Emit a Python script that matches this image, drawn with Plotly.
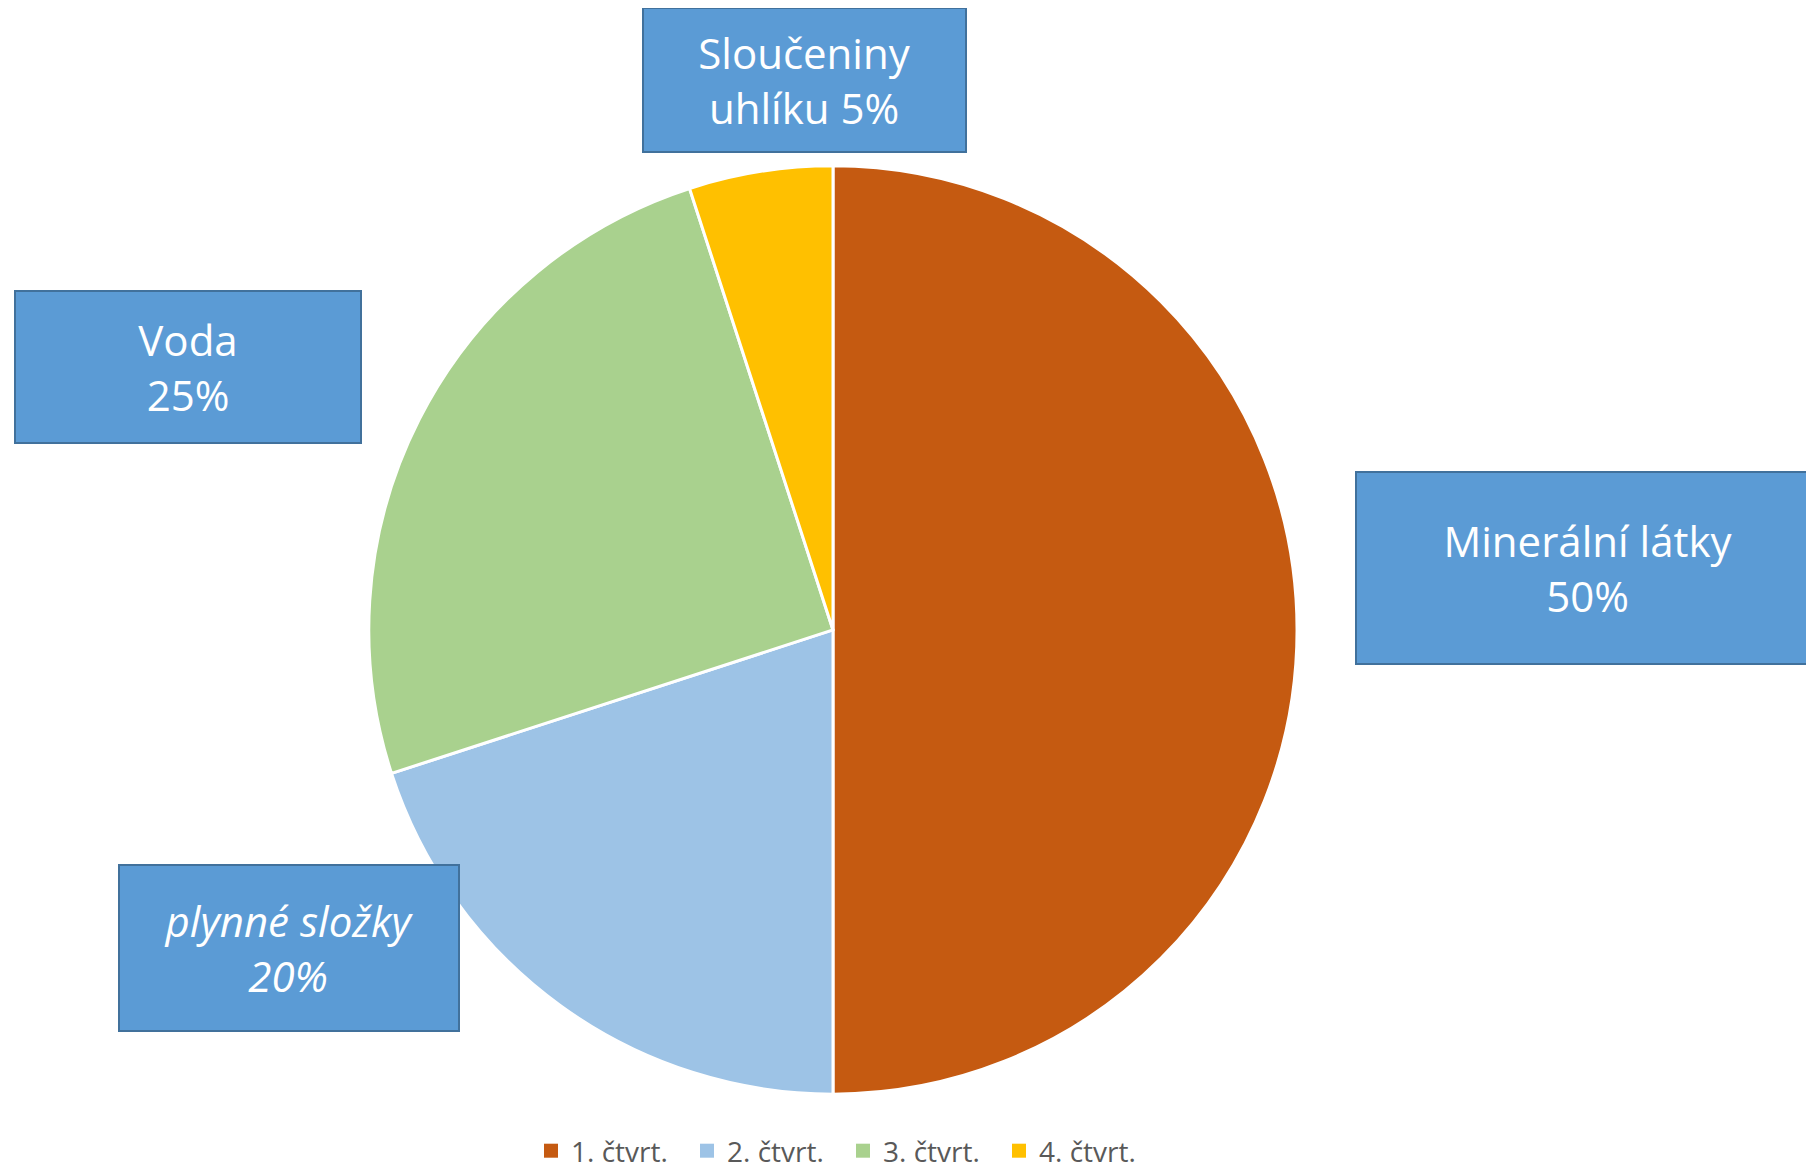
import plotly.graph_objects as go

# ---- data ----
legend_names = ["1. čtvrt.", "2. čtvrt.", "3. čtvrt.", "4. čtvrt."]
values = [50, 20, 25, 5]
label_names = ["Minerální látky", "plynné složky", "Voda", "Sloučeniny uhlíku"]
colors = ["#C55A11", "#9DC3E6", "#A9D18E", "#FFC000"]

W, H = 1814, 1168
OFF = 8  # page body margin offset


def px_x(px):
    return (px - OFF) / W


def px_y(py):
    return 1 - (py - OFF) / H


fig = go.Figure()
fig.add_trace(go.Pie(
    labels=legend_names,
    values=values,
    sort=False,
    direction="clockwise",
    rotation=0,
    textinfo="none",
    hoverinfo="skip",
    showlegend=False,
    marker=dict(colors=colors, line=dict(color="white", width=3)),
    domain=dict(x=[px_x(833 - 465), px_x(833 + 465)],
                y=[px_y(631 + 465), px_y(631 - 465)]),
))

# legend entries (square swatches)
for name, col in zip(legend_names, colors):
    fig.add_trace(go.Scatter(
        x=[None], y=[None], mode="markers", name=name,
        marker=dict(symbol="square", size=14, color=col),
        hoverinfo="skip",
    ))

# label boxes: (center x px, center y px, width px, height px, italic, break style)
boxes = [
    (1588, 569, 464, 192, False, "name_br_pct"),
    (289, 950, 340, 166, True, "name_br_pct"),
    (188, 368, 346, 152, False, "name_br_pct"),
    (804.5, 80, 323, 144, False, "split_words"),
]

annotations = []
for name, val, (cx, cy, bw, bh, ital, style) in zip(label_names, values, boxes):
    if style == "split_words":
        first, rest = name.split(" ", 1)
        txt = f"{first}<br>{rest} {val}%"
    else:
        txt = f"{name}<br>{val}%"
    if ital:
        txt = f"<i>{txt}</i>"
    annotations.append(dict(
        x=px_x(cx), y=px_y(cy), xref="paper", yref="paper",
        xanchor="center", yanchor="middle",
        text=txt, showarrow=False,
        width=bw - 2, height=bh - 2,
        bgcolor="#5B9BD5", bordercolor="#41719C", borderwidth=2, borderpad=0,
        font=dict(family="Open Sans", size=42, color="white"),
        align="center", valign="middle",
    ))

fig.update_layout(
    width=W, height=H,
    margin=dict(l=0, r=0, t=0, b=0),
    paper_bgcolor="white", plot_bgcolor="white",
    xaxis=dict(visible=False), yaxis=dict(visible=False),
    annotations=annotations,
    showlegend=True,
    legend=dict(
        orientation="h", x=px_x(531), xanchor="left",
        y=px_y(1153), yanchor="middle",
        font=dict(family="Open Sans", size=28, color="#595959"),
        entrywidth=111, entrywidthmode="pixels",
        itemsizing="trace",
    ),
)

fig.write_html("out.html")
